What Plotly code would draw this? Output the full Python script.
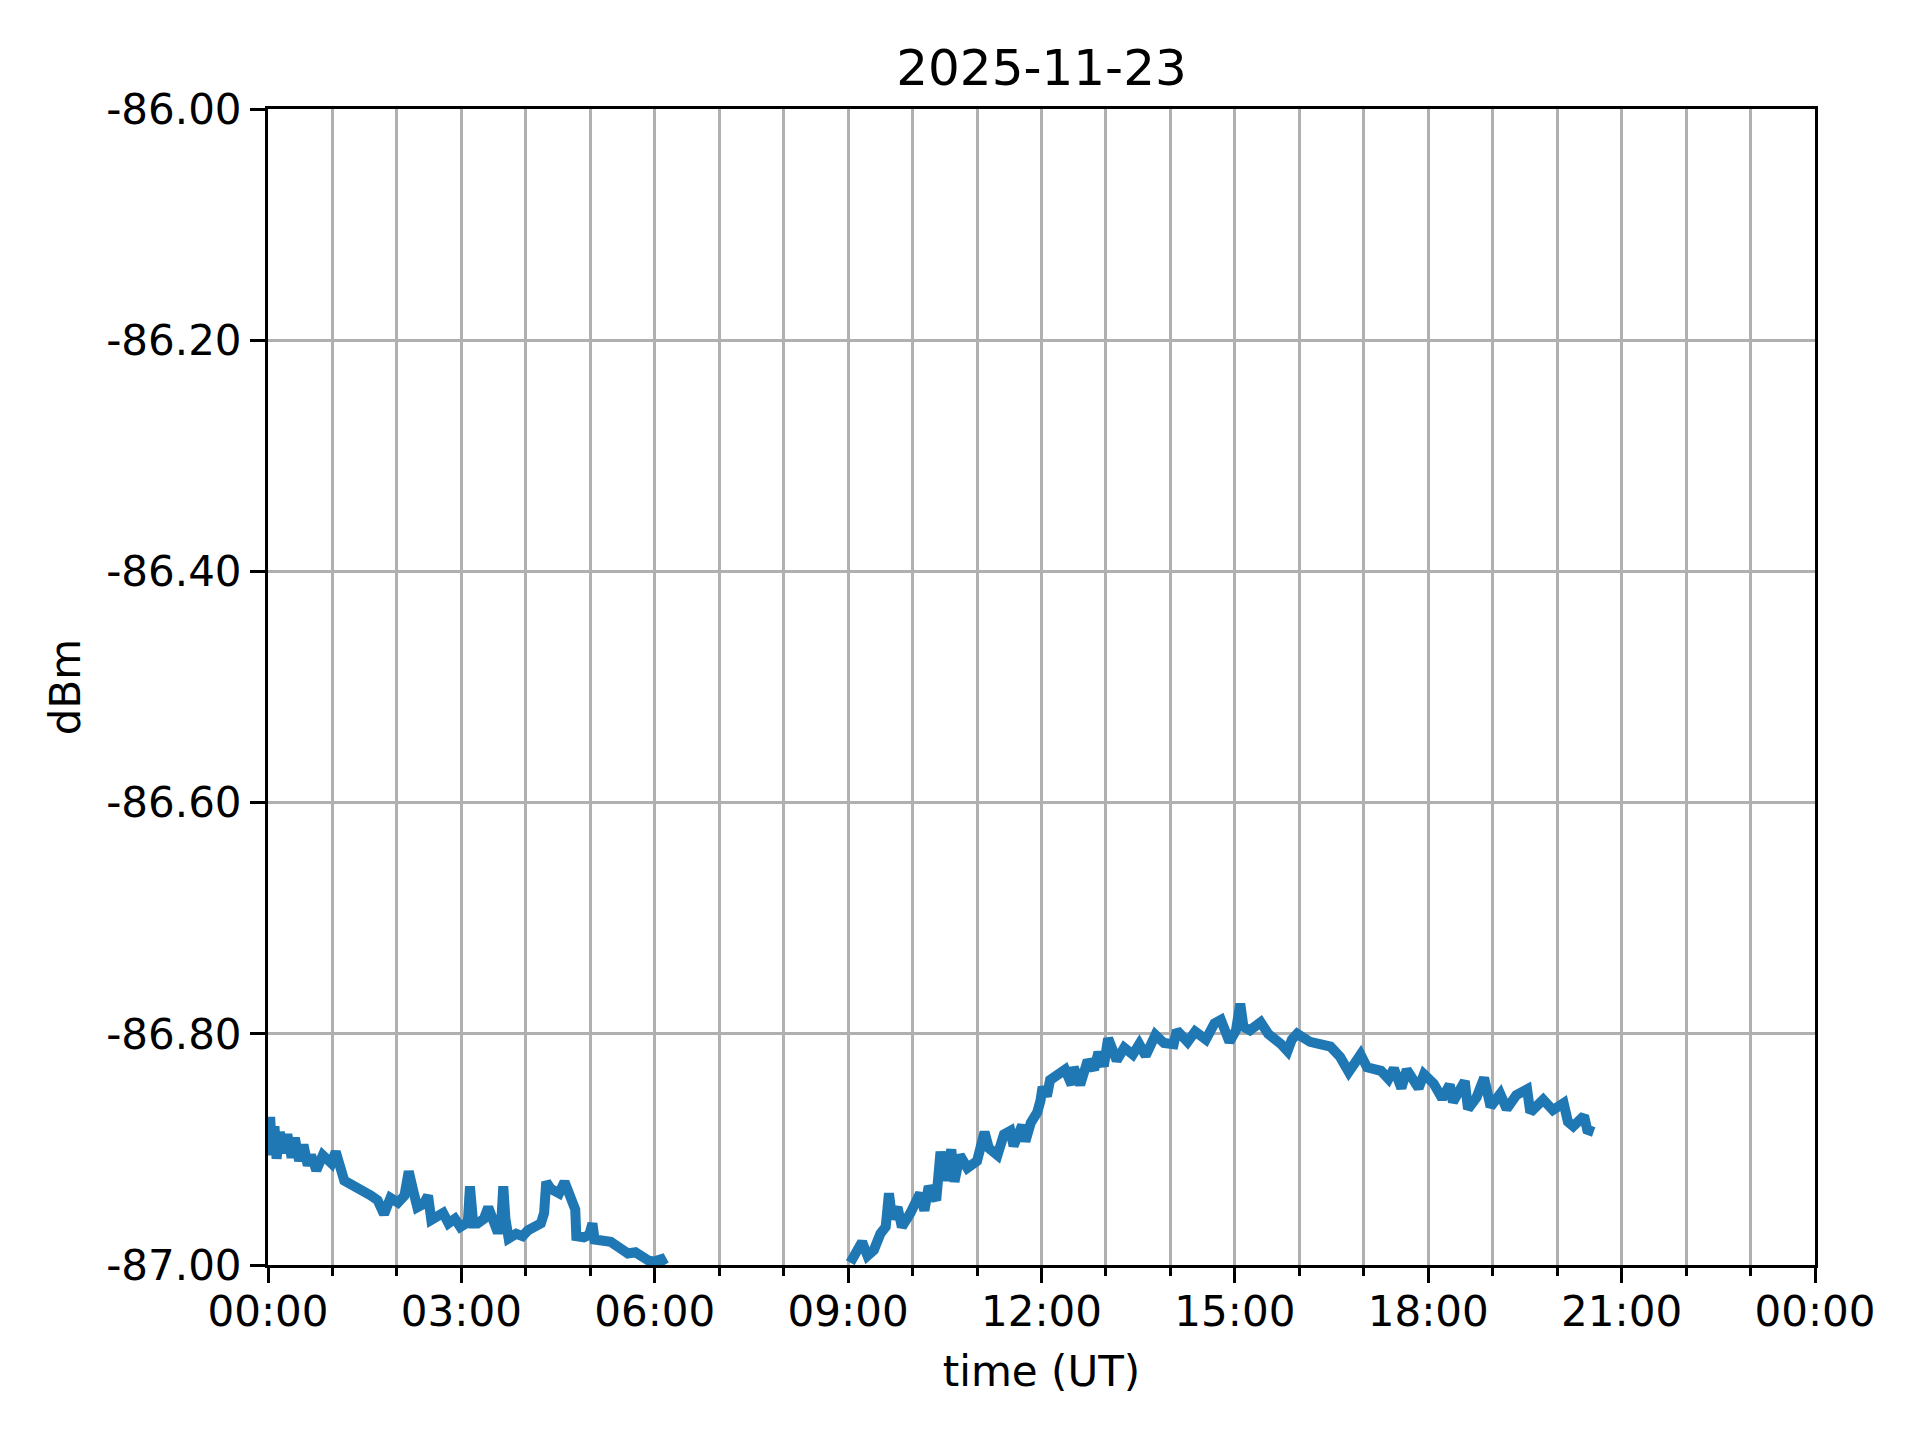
import plotly.graph_objects as go

DATE = "2025-11-23"

seg1_times = ["00:00", "00:02", "00:04", "00:06", "00:08", "00:11", "00:14", "00:18", "00:22", "00:25",
              "00:29", "00:33", "00:37", "00:40", "00:45", "00:51", "00:59", "01:03", "01:11", "01:18",
              "01:26", "01:36", "01:42", "01:48", "01:54", "02:01", "02:07", "02:11", "02:15", "02:19",
              "02:25", "02:29", "02:32", "02:37", "02:43", "02:48", "02:54", "02:59", "03:06", "03:08",
              "03:11", "03:15", "03:21", "03:25", "03:29", "03:34", "03:37", "03:39", "03:41", "03:44",
              "03:51", "03:57", "04:02", "04:09", "04:14", "04:17", "04:19", "04:23", "04:26", "04:31",
              "04:36", "04:40", "04:43", "04:46", "04:47", "04:54", "04:59", "05:02", "05:04", "05:11",
              "05:19", "05:27", "05:35", "05:42", "05:47", "05:54", "05:59", "06:06", "06:09"]
seg1_dbm = [-86.905, -86.872, -86.905, -86.880, -86.908, -86.885, -86.903, -86.887, -86.907, -86.890,
            -86.910, -86.896, -86.914, -86.905, -86.918, -86.905, -86.912, -86.902, -86.927, -86.930,
            -86.935, -86.940, -86.944, -86.956, -86.942, -86.946, -86.940, -86.919, -86.935, -86.950,
            -86.947, -86.940, -86.961, -86.958, -86.955, -86.964, -86.960, -86.967, -86.963, -86.932,
            -86.964, -86.964, -86.960, -86.950, -86.962, -86.972, -86.965, -86.932, -86.960, -86.977,
            -86.973, -86.975, -86.970, -86.967, -86.964, -86.955, -86.928, -86.934, -86.935, -86.938,
            -86.928, -86.940, -86.944, -86.952, -86.975, -86.976, -86.974, -86.964, -86.978, -86.979,
            -86.980, -86.985, -86.990, -86.989, -86.993, -86.996, -86.997, -86.995, -87.000]

seg2_times = ["09:02", "09:07", "09:13", "09:18", "09:24", "09:30", "09:35", "09:38", "09:41", "09:46",
              "09:50", "09:58", "10:07", "10:11", "10:15", "10:22", "10:26", "10:30", "10:36", "10:39",
              "10:44", "10:51", "11:00", "11:07", "11:11", "11:19", "11:25", "11:31", "11:34", "11:42",
              "11:45", "11:50", "11:56", "11:59", "12:01", "12:05", "12:08", "12:22", "12:28", "12:30",
              "12:36", "12:43", "12:49", "12:53", "12:58", "13:02", "13:10", "13:17", "13:25", "13:31",
              "13:37", "13:46", "13:54", "14:03", "14:06", "14:16", "14:23", "14:33", "14:41", "14:47",
              "14:55", "15:01", "15:05", "15:08", "15:14", "15:24", "15:31", "15:43", "15:49", "15:53",
              "15:58", "16:10", "16:20", "16:29", "16:38", "16:46", "16:57", "17:03", "17:16", "17:23",
              "17:28", "17:35", "17:40", "17:51", "17:56", "18:05", "18:13", "18:20", "18:23", "18:34",
              "18:37", "18:45", "18:52", "18:58", "19:07", "19:13", "19:22", "19:32", "19:35", "19:47",
              "19:56", "20:06", "20:10", "20:15", "20:25", "20:28", "20:34"]
seg2_dbm = [-86.998, -86.990, -86.980, -86.992, -86.987, -86.973, -86.967, -86.938, -86.960, -86.950,
            -86.967, -86.955, -86.938, -86.953, -86.932, -86.944, -86.902, -86.927, -86.900, -86.928,
            -86.905, -86.916, -86.910, -86.885, -86.899, -86.905, -86.887, -86.884, -86.897, -86.879,
            -86.893, -86.877, -86.868, -86.858, -86.846, -86.854, -86.840, -86.831, -86.844, -86.829,
            -86.844, -86.823, -86.831, -86.816, -86.828, -86.804, -86.823, -86.812, -86.818, -86.809,
            -86.819, -86.801, -86.808, -86.809, -86.797, -86.807, -86.798, -86.805, -86.791, -86.788,
            -86.807, -86.797, -86.774, -86.794, -86.797, -86.790, -86.800, -86.809, -86.815, -86.805,
            -86.800, -86.807, -86.809, -86.811, -86.820, -86.833, -86.818, -86.829, -86.832, -86.839,
            -86.830, -86.847, -86.831, -86.847, -86.835, -86.843, -86.856, -86.844, -86.859, -86.841,
            -86.865, -86.855, -86.838, -86.863, -86.852, -86.865, -86.853, -86.848, -86.868, -86.857,
            -86.866, -86.860, -86.876, -86.880, -86.871, -86.883, -86.885]

x_tick_vals = ["2025-11-23 00:00", "2025-11-23 03:00", "2025-11-23 06:00", "2025-11-23 09:00",
               "2025-11-23 12:00", "2025-11-23 15:00", "2025-11-23 18:00", "2025-11-23 21:00",
               "2025-11-24 00:00"]
x_tick_text = ["00:00", "03:00", "06:00", "09:00", "12:00", "15:00", "18:00", "21:00", "00:00"]
y_tick_vals = [-87.0, -86.8, -86.6, -86.4, -86.2, -86.0]
y_tick_text = ["-87.00", "-86.80", "-86.60", "-86.40", "-86.20", "-86.00"]

x = [f"{DATE} {t}" for t in seg1_times] + [None] + [f"{DATE} {t}" for t in seg2_times]
y = seg1_dbm + [None] + seg2_dbm

FONT = "DejaVu Sans"
GRID = "#b0b0b0"

fig = go.Figure()
fig.add_trace(go.Scatter(x=x, y=y, mode="lines", connectgaps=False,
                         line=dict(color="#1f77b4", width=10), showlegend=False))

fig.update_layout(
    width=1920, height=1440,
    margin=dict(l=260, r=113, t=101, b=183),
    paper_bgcolor="white", plot_bgcolor="white",
    font=dict(family=FONT, size=42, color="black"),
    title=dict(text="2025-11-23", x=(260 + 1807) / 2 / 1920, xanchor="center",
               y=1 - 59 / 1440, yanchor="middle", yref="container",
               font=dict(family=FONT, size=50, color="black")),
)

fig.update_xaxes(
    type="date",
    range=["2025-11-23 00:00", "2025-11-24 00:00"],
    tickmode="array", tickvals=x_tick_vals, ticktext=x_tick_text,
    ticks="outside", ticklen=15, tickwidth=3, tickcolor="black",
    showline=True, linecolor="black", linewidth=3, mirror=True,
    showgrid=True, gridcolor=GRID, gridwidth=3,
    minor=dict(dtick=3600000, ticks="outside", ticklen=8, tickwidth=3, tickcolor="black",
               showgrid=True, gridcolor=GRID, gridwidth=3),
    zeroline=False,
    ticklabelstandoff=-7,
    title=dict(text="time (UT)", font=dict(family=FONT, size=42), standoff=22),
    tickfont=dict(family=FONT, size=42),
)

fig.update_yaxes(
    range=[-87.0, -86.0],
    tickmode="array", tickvals=y_tick_vals, ticktext=y_tick_text,
    ticks="outside", ticklen=15, tickwidth=3, tickcolor="black",
    showline=True, linecolor="black", linewidth=3, mirror=True,
    showgrid=True, gridcolor=GRID, gridwidth=3,
    zeroline=False,
    ticklabelstandoff=0,
    title=dict(text="dBm", font=dict(family=FONT, size=42), standoff=13),
    tickfont=dict(family=FONT, size=42),
)

fig.write_html("out.html")
